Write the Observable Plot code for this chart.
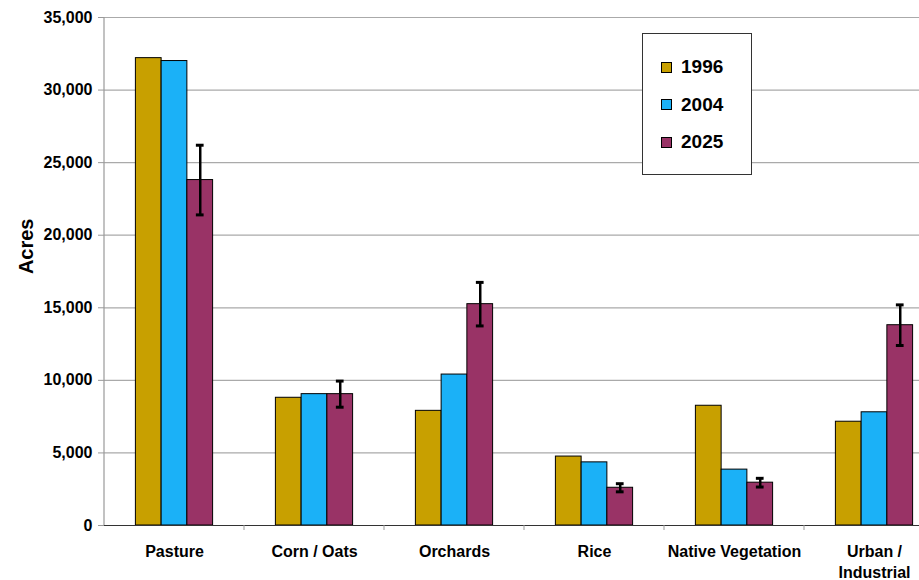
<!DOCTYPE html>
<html><head><meta charset="utf-8">
<script src="https://cdn.jsdelivr.net/npm/d3@7"></script>
<script src="https://cdn.jsdelivr.net/npm/@observablehq/plot@0.6"></script>
<style>
html,body{margin:0;padding:0;background:#fff;overflow:hidden;}
#wrap{position:relative;width:919px;height:580px;overflow:hidden;}
#wrap svg{max-width:none !important;}
#legend{position:absolute;left:642px;top:33px;width:110px;height:142px;background:#fff;border:1.5px solid #333;box-sizing:border-box;font-family:"Liberation Sans",Arial,sans-serif;font-weight:bold;font-size:19px;color:#000;}
.item{position:absolute;left:18px;display:flex;align-items:center;height:20px;}
.sw{width:11px;height:11px;border:1px solid #000;box-sizing:border-box;margin-right:9px;}
</style></head><body><div id="wrap"></div>
<script>
const categories = ["Pasture", "Corn / Oats", "Orchards", "Rice", "Native Vegetation", "Urban /\nIndustrial"];
const years = ["1996", "2004", "2025"];
const acres1996 = [32200, 8800, 7900, 4750, 8250, 7150];
const acres2004 = [32000, 9050, 10400, 4350, 3850, 7800];
const acres2025 = [23800, 9050, 15250, 2600, 2950, 13800];
const error2025 = [2400, 900, 1500, 280, 300, 1400];
const colors = ["#C8A000", "#1BB1F7", "#993366"];
const yTicks = [0, 5000, 10000, 15000, 20000, 25000, 30000, 35000];

const series = [acres1996, acres2004, acres2025];
const rows = [];
categories.forEach((c, i) => years.forEach((y, j) => rows.push({category: c, year: y, value: series[j][i]})));
const errRows = categories.map((c, i) => ({category: c, year: "2025", lo: acres2025[i] - error2025[i], hi: acres2025[i] + error2025[i]}));

const plot = Plot.plot({
  width: 944, height: 580,
  marginLeft: 104, marginRight: 0, marginTop: 17, marginBottom: 55,
  style: {fontFamily: "'Liberation Sans', Arial, sans-serif", fontSize: "16px", fontWeight: "bold", color: "#000", background: "#fff", overflow: "visible", maxWidth: "none"},
  fx: {domain: categories, padding: 0, label: null},
  x: {domain: years, paddingInner: 0, paddingOuter: 1.22, axis: null, round: false},
  y: {domain: [0, 35000], label: null},
  color: {domain: years, range: colors},
  marks: [
    Plot.gridY(yTicks, {stroke: "#aaaaaa", strokeOpacity: 1, strokeWidth: 1.2}),
    Plot.barY(rows, {fx: "category", x: "year", y: "value", fill: "year", stroke: "#000", strokeWidth: 1}),
    Plot.ruleX(errRows, {fx: "category", x: "year", y1: "lo", y2: "hi", stroke: "#000", strokeWidth: 2.5}),
    Plot.tickY(errRows, {fx: "category", x: "year", y: "hi", stroke: "#000", strokeWidth: 3, insetLeft: 9, insetRight: 9}),
    Plot.tickY(errRows, {fx: "category", x: "year", y: "lo", stroke: "#000", strokeWidth: 3, insetLeft: 9, insetRight: 9}),
    Plot.ruleY([0], {stroke: "#333", strokeWidth: 1.2}),
    Plot.axisY(yTicks, {tickFormat: d3.format(","), tickSize: 6, tickPadding: 6, stroke: "#999", fill: "#000", label: null, fontSize: 16, fontWeight: "bold"}),
    Plot.axisFx({anchor: "bottom", tickSize: 0, tickPadding: 16, label: null, lineHeight: 1.35, fontSize: 16, fontWeight: "bold", fill: "#000"})
  ]
});
plot.style.maxWidth = "none";

const wrap = document.getElementById("wrap");
wrap.appendChild(plot);

// axis line, boundary ticks and y label
const svg = d3.select(plot);
const fxs = plot.scale("fx");
const ys = plot.scale("y");
const y0 = ys.apply(0), yTop = ys.apply(35000);
const left = fxs.apply(categories[0]);
const g = svg.append("g");
g.append("line").attr("x1", left).attr("x2", left).attr("y1", yTop).attr("y2", y0).attr("stroke", "#999").attr("stroke-width", 1.2);
categories.forEach(c => {
  const x = fxs.apply(c) + fxs.bandwidth;
  g.append("line").attr("x1", x).attr("x2", x).attr("y1", y0).attr("y2", y0 + 5).attr("stroke", "#999");
});
g.append("text").text("Acres")
  .attr("transform", `translate(33,${ys.apply(19200)}) rotate(-90)`)
  .attr("text-anchor", "middle")
  .attr("font-family", "'Liberation Sans', Arial, sans-serif")
  .attr("font-weight", "bold").attr("font-size", 20).attr("fill", "#000");

// legend
const legend = document.createElement("div");
legend.id = "legend";
years.forEach((y, j) => {
  const it = document.createElement("div");
  it.className = "item";
  it.style.top = (23 + j * 37.5) + "px";
  const sw = document.createElement("div");
  sw.className = "sw";
  sw.style.background = colors[j];
  it.appendChild(sw);
  it.appendChild(document.createTextNode(y));
  legend.appendChild(it);
});
wrap.appendChild(legend);
</script></body></html>
